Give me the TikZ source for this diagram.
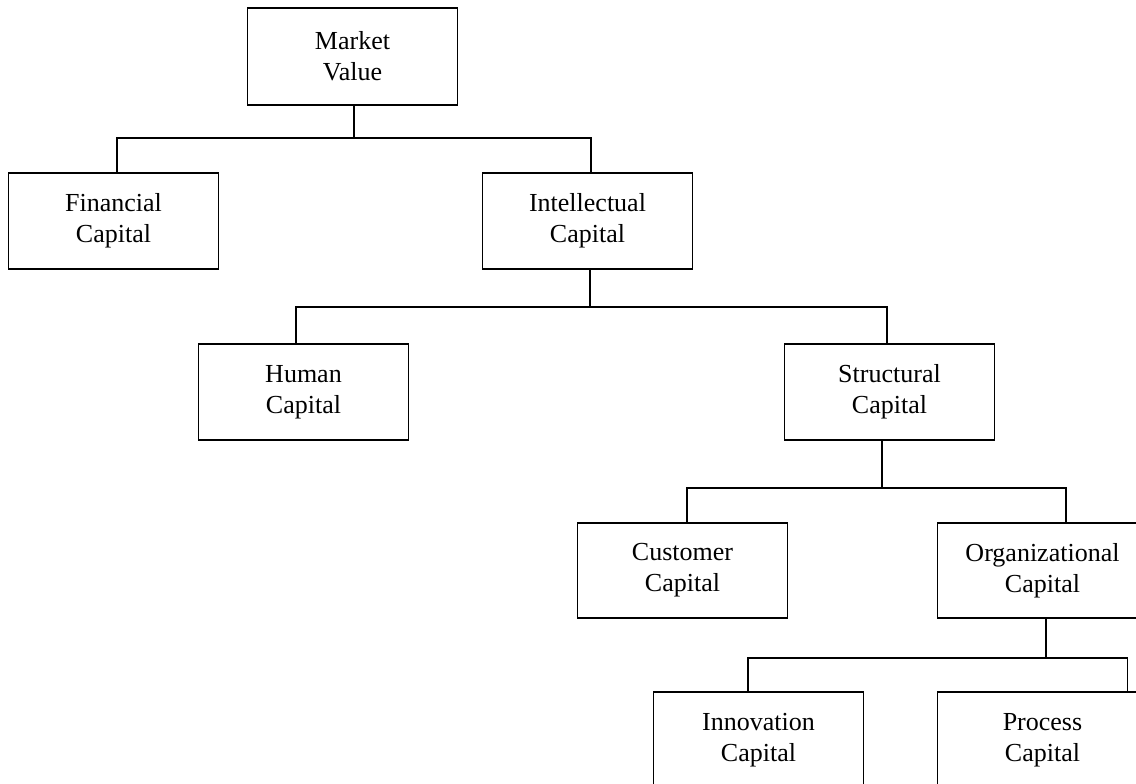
\documentclass[tikz,border=0pt]{standalone}
\usepackage{fontspec}
\setmainfont{Liberation Serif}
\begin{document}
\begin{tikzpicture}[x=1pt,y=1pt,
  box/.style={draw, line width=1.6pt, rectangle, minimum width=210pt, minimum height=96pt,
    inner sep=0pt, align=center, font=\fontsize{26}{31}\selectfont},
  conn/.style={line width=1.6pt}]
\useasboundingbox (0,0) rectangle (1136,-784);
\fill[white] (0,0) rectangle (1136,-784);
\clip (0,0) rectangle (1136,-784);
% nodes
\node[box, minimum height=97pt] (mv) at (352.5,-56.5) {Market\\Value};
\node[box] (fin) at (113.5,-221) {Financial\\Capital};
\node[box] (int) at (587.5,-221) {Intellectual\\Capital};
\node[box] (hum) at (303.5,-392) {Human\\Capital};
\node[box] (str) at (889.5,-392) {Structural\\Capital};
\node[box, minimum height=95pt] (cus) at (682.5,-570.5) {Customer\\Capital};
\node[box, minimum height=95pt] (org) at (1042.5,-570.5) {Organizational\\Capital};
\node[box] (inn) at (758.5,-740) {Innovation\\Capital};
\node[box] (pro) at (1042.5,-740) {Process\\Capital};
% bus levels
\coordinate (b1) at (0,-138);
\coordinate (b2) at (0,-307);
\coordinate (b3) at (0,-488);
\coordinate (b4) at (0,-658);
% stems
\coordinate (mvB) at ([xshift=1.5pt]mv.south);
\coordinate (finT) at ([xshift=3.5pt]fin.north);
\coordinate (intT) at ([xshift=3.5pt]int.north);
\coordinate (intB) at ([xshift=2.5pt]int.south);
\coordinate (humT) at ([xshift=-7.5pt]hum.north);
\coordinate (strT) at ([xshift=-2.5pt]str.north);
\coordinate (strB) at ([xshift=-7.5pt]str.south);
\coordinate (cusT) at ([xshift=4.5pt]cus.north);
\coordinate (orgT) at ([xshift=23.5pt]org.north);
\coordinate (orgB) at ([xshift=3.5pt]org.south);
\coordinate (innT) at ([xshift=-10.5pt]inn.north);
\coordinate (proT) at ([xshift=85pt]pro.north);
% connectors
\draw[conn] (mvB) -- (mvB |- b1);
\draw[conn] (finT) -- (finT |- b1) -- (intT |- b1) -- (intT);
\draw[conn] (intB) -- (intB |- b2);
\draw[conn] (humT) -- (humT |- b2) -- (strT |- b2) -- (strT);
\draw[conn] (strB) -- (strB |- b3);
\draw[conn] (cusT) -- (cusT |- b3) -- (orgT |- b3) -- (orgT);
\draw[conn] (orgB) -- (orgB |- b4);
\draw[conn] (innT) -- (innT |- b4) -- (proT |- b4) -- (proT);
\end{tikzpicture}
\end{document}
